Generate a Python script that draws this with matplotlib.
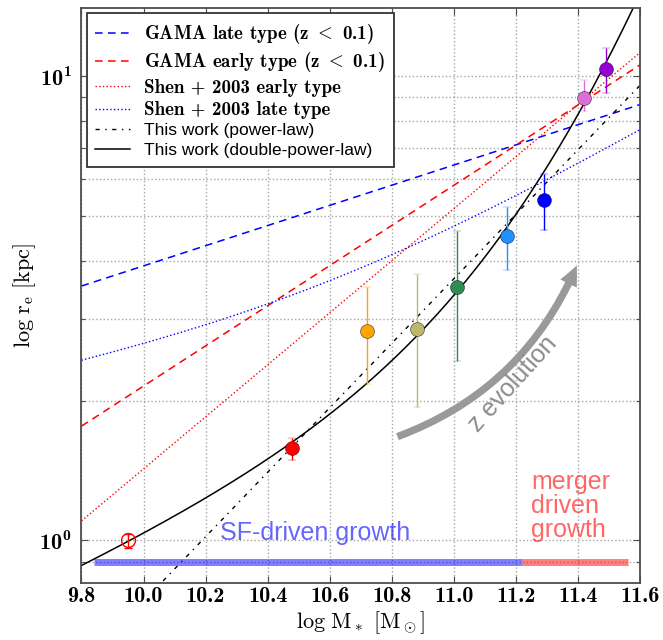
import numpy as np
import matplotlib
matplotlib.use("Agg")
import matplotlib.pyplot as plt
from matplotlib.patches import FancyArrowPatch
from matplotlib.ticker import FixedLocator, FuncFormatter, LogLocator, NullFormatter

plt.rcParams['mathtext.fontset'] = 'cm'
plt.rcParams['font.family'] = ['Liberation Sans', 'DejaVu Sans']

# measured sizes (this work)
log_mass = [9.95, 10.48, 10.72, 10.88, 11.01, 11.17, 11.29, 11.42, 11.49]
r_e = [1.00, 1.58, 2.83, 2.85, 3.52, 4.53, 5.41, 8.98, 10.33]
r_err_lo = [0.035, 0.09, 0.66, 0.91, 1.09, 0.71, 0.75, 0.57, 1.13]
r_err_hi = [0.035, 0.08, 0.68, 0.90, 1.11, 0.70, 0.74, 0.81, 1.17]
point_colors = ['red', 'red', 'orange', 'darkkhaki', 'seagreen',
                'dodgerblue', 'blue', 'orchid', 'darkviolet']

# relations r = a * (M / 1e10)^b
gama_late = [3.90, 0.217]
gama_early = [2.15, 0.432]
shen_early = [1.426, 0.56]
power_law = [0.74, 0.694]
# r = g * M^alpha * (1 + M/M0)^(beta - alpha), [log g, alpha, beta, log M0]
shen_late = [-1.0, 0.14, 0.39, 10.6]
double_power = [-3.011, 0.30, 2.30, 11.5]

# growth regimes
sf_range = [9.84, 11.22]
merger_range = [11.22, 11.56]
band_level = 0.9

xticks = [9.8, 10.0, 10.2, 10.4, 10.6, 10.8, 11.0, 11.2, 11.4, 11.6]


def single(m, p):
    return p[0] * 10 ** (p[1] * (m - 10.0))


def broken(m, p):
    return 10 ** (p[0] + p[1] * m + (p[2] - p[1]) * np.log10(1 + 10 ** (m - p[3])))


m = np.linspace(9.8, 11.6, 400)

fig = plt.figure(figsize=(6.63, 6.4), dpi=100)
ax = fig.add_axes([0.1229, 0.0891, 0.8424, 0.8984])

ax.plot(m, single(m, gama_late), color='b', lw=1.1, dashes=(5, 3.5),
        label=r'GAMA late type (z $<$ 0.1)')
ax.plot(m, single(m, gama_early), color='r', lw=1.1, dashes=(5, 3.5),
        label=r'GAMA early type (z $<$ 0.1)')
ax.plot(m, single(m, shen_early), color='r', lw=1.0, ls=':',
        label='Shen + 2003 early type')
ax.plot(m, broken(m, shen_late), color='b', lw=1.0, ls=':',
        label='Shen + 2003 late type')
ax.plot(m, single(m, power_law), color='k', lw=1.0, ls=(0, (3, 4, 1, 4)),
        label='This work (power-law)')
ax.plot(m, broken(m, double_power), color='k', lw=1.1,
        label='This work (double-power-law)')

ax.plot(sf_range, [band_level, band_level], color='b', alpha=0.5, lw=5,
        solid_capstyle='butt')
ax.plot(merger_range, [band_level, band_level], color='r', alpha=0.5, lw=5,
        solid_capstyle='butt')

for i in range(len(log_mass)):
    hollow = i == 0
    ax.errorbar(log_mass[i], r_e[i], yerr=[[r_err_lo[i]], [r_err_hi[i]]],
                fmt='o', ms=10, color=point_colors[i],
                mfc='none' if hollow else point_colors[i],
                mec=point_colors[i] if hollow else 'k', mew=1.0 if hollow else 0.3,
                elinewidth=1.0, capsize=3, capthick=1.0, zorder=5)

ax.text(10.248, 1.0, 'SF-driven growth', color='b', alpha=0.6, fontsize=18,
        va='baseline', ha='left')
ax.text(11.25, 1.016, 'merger\ndriven\ngrowth', color='r', alpha=0.6, fontsize=18,
        va='baseline', ha='left', linespacing=1.0)
ax.text(11.19, 2.17, 'z evolution', color='0.55', fontsize=18, rotation=48,
        ha='center', va='center', rotation_mode='anchor')

arrow = FancyArrowPatch((10.81, 1.665), (11.40, 3.96),
                        connectionstyle='arc3,rad=0.22',
                        arrowstyle='simple,tail_width=0.22,head_width=0.55,head_length=0.6',
                        mutation_scale=24, color='0.6', lw=0)
ax.add_patch(arrow)

ax.set_yscale('log')
ax.set_xlim(9.8, 11.6)
ax.set_ylim(0.81, 14.0)

ax.xaxis.set_major_locator(FixedLocator(xticks))
ax.xaxis.set_major_formatter(FuncFormatter(lambda v, p: '%.1f' % v))
ax.yaxis.set_major_locator(LogLocator(base=10))
ax.yaxis.set_minor_locator(LogLocator(base=10, subs=np.arange(2, 10)))
ax.yaxis.set_major_formatter(FuncFormatter(
    lambda v, p: r'$\mathregular{10^{%d}}$' % int(round(np.log10(v)))))
ax.yaxis.set_minor_formatter(NullFormatter())

ax.tick_params(which='both', direction='in', top=True, right=True, color='0.3')
ax.tick_params(axis='x', labelsize=16, labelfontfamily='cmb10', pad=3)
ax.tick_params(axis='y', labelsize=16, labelfontfamily='cmb10', pad=7)
ax.tick_params(which='major', length=5, width=0.8)
ax.tick_params(which='minor', length=3, width=0.8)
ax.grid(True, which='major', axis='both', ls=':', color='0.65', lw=1.0)
ax.grid(True, which='minor', axis='y', ls=':', color='0.65', lw=1.0)
for s in ax.spines.values():
    s.set_color('0.3')
    s.set_linewidth(1.3)

ax.set_xlabel(r'$\log\,\mathrm{M_*}\ [\mathrm{M_\odot}]$', fontsize=16, labelpad=2)
ax.set_ylabel(r'$\log\,\mathrm{r_e}\ [\mathrm{kpc}]$', fontsize=16, labelpad=1)

leg = ax.legend(loc='upper left', fontsize=12.5, handlelength=2.0, labelspacing=0.25,
                borderaxespad=0.3, fancybox=False, framealpha=1.0, edgecolor='0.2',
                borderpad=0.5, handletextpad=0.8)
leg.get_frame().set_linewidth(1.3)
for t in leg.get_texts()[:4]:
    t.set_fontfamily('cmb10')
    t.set_fontsize(13.7)

fig.savefig('out.png', dpi=100)
